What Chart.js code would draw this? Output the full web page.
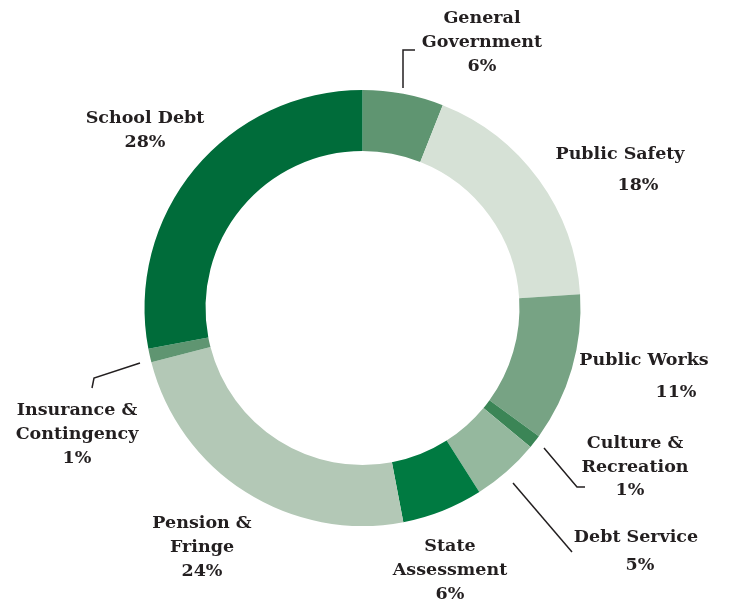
<!DOCTYPE html>
<html>
<head>
<meta charset="utf-8">
<script src="https://cdn.jsdelivr.net/npm/chart.js@4.4.1/dist/chart.umd.min.js"></script>
<style>
  html, body { margin: 0; padding: 0; background: #fff; }
  #wrap { width: 744px; height: 603px; }
</style>
</head>
<body>
<div id="wrap"><canvas id="budgetChart" width="744" height="603"></canvas></div>
<script>
const categories = [
    ['General', 'Government'],
    ['Public Safety'],
    ['Public Works'],
    ['Culture &', 'Recreation'],
    ['Debt Service'],
    ['State', 'Assessment'],
    ['Pension &', 'Fringe'],
    ['Insurance &', 'Contingency'],
    ['School Debt'],
];
const shares = [6, 18, 11, 1, 5, 6, 24, 1, 28];
const colors = ['#5f9571', '#d6e1d6', '#77a384', '#3b8556', '#95b89e', '#007a41', '#b3c8b6', '#5f9571', '#006c3a'];

// label anchors, offsets from the ring centre
const placement = [
    { name: [119.5, -290], pct: [119.5, -242], leader: [[40.5, -220], [40.5, -258], [52.5, -258]] },
    { name: [257.5, -154], pct: [275.5, -123] },
    { name: [281.5, 52],   pct: [313.5, 84] },
    { name: [272.5, 135],  pct: [267.5, 182], leader: [[181.5, 140], [214.5, 179], [222.5, 179]] },
    { name: [273.5, 229],  pct: [277.5, 257], leader: [[150.5, 175], [209.5, 244]] },
    { name: [87.5, 238],   pct: [87.5, 286] },
    { name: [-160.5, 215], pct: [-160.5, 263] },
    { name: [-285.5, 102], pct: [-285.5, 150], leader: [[-222.5, 55], [-268.5, 70], [-270.5, 80]] },
    { name: [-217.5, -190], pct: [-217.5, -166] },
];

const textColor = '#231f20';
const labelFont = 'bold 17.5px "DejaVu Serif", serif';

const ringLabels = {
    id: 'ringLabels',
    afterDraw(chart) {
        const arc = chart.getDatasetMeta(0).data[0];
        if (!arc) return;
        const cx = arc.x, cy = arc.y;
        const ctx = chart.ctx;
        ctx.save();
        ctx.fillStyle = textColor;
        ctx.strokeStyle = textColor;
        ctx.lineWidth = 1.5;
        ctx.font = labelFont;
        ctx.textAlign = 'center';
        ctx.textBaseline = 'middle';
        placement.forEach((p, i) => {
            const lines = chart.data.labels[i];
            lines.forEach((line, j) => {
                ctx.fillText(line, cx + p.name[0], cy + p.name[1] + j * 24);
            });
            ctx.fillText(chart.data.datasets[0].data[i] + '%', cx + p.pct[0], cy + p.pct[1]);
            if (p.leader) {
                ctx.beginPath();
                p.leader.forEach(([dx, dy], k) => {
                    if (k === 0) ctx.moveTo(cx + dx, cy + dy);
                    else ctx.lineTo(cx + dx, cy + dy);
                });
                ctx.stroke();
            }
        });
        ctx.restore();
    },
};

new Chart(document.getElementById('budgetChart'), {
    type: 'doughnut',
    data: {
        labels: categories,
        datasets: [{
            data: shares,
            backgroundColor: colors,
            borderWidth: 0,
        }],
    },
    options: {
        responsive: false,
        animation: false,
        cutout: '72%',
        layout: { padding: { left: 144.5, right: 163.5, top: 90, bottom: 77 } },
        plugins: {
            legend: { display: false },
            tooltip: { enabled: false },
        },
    },
    plugins: [ringLabels],
});
</script>
</body>
</html>
